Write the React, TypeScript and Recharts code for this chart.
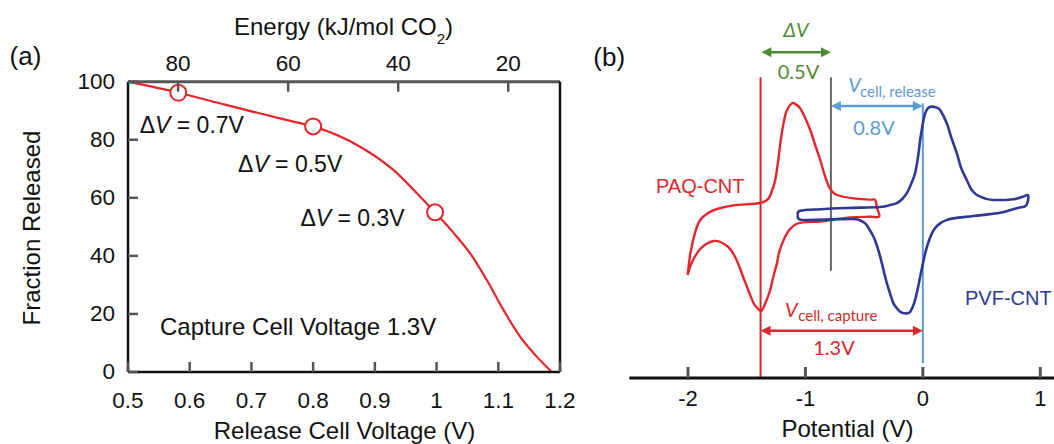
import React from 'react';
import { ComposedChart, Line, XAxis, YAxis, ReferenceLine } from 'recharts';

// panel (a): fraction of CO2 released vs release cell voltage
const releaseVoltage = [0.5, 0.5815, 0.657, 0.711, 0.765, 0.8, 0.876, 0.93, 0.968, 0.9976, 1.0272, 1.0543, 1.0814, 1.1083, 1.1353, 1.1624, 1.1867];
const fractionReleased = [100, 96.2, 92.1, 89.2, 86.4, 84.6, 77.6, 69.6, 61.6, 55.0, 48.0, 40.9, 31.7, 21.4, 12.2, 5.3, 0];
const markerVoltage = [0.5815, 0.8, 0.9976];
const markerFraction = [96.2, 84.6, 55.0];
const voltageTicks = [0.5, 0.6, 0.7, 0.8, 0.9, 1, 1.1, 1.2];
const fractionTicks = [0, 20, 40, 60, 80, 100];
const energyTicks = [20, 40, 60, 80];
const energyDomain = [10.6, 89.1];
const voltageDomain = [0.5, 1.2];
const fractionDomain = [0, 100];

// panel (b): cyclic voltammograms (current in arbitrary units)
const paqPotential = [-2.003, -1.98, -1.938, -1.896, -1.828, -1.753, -1.612, -1.385, -1.314, -1.283, -1.257, -1.231, -1.214, -1.189, -1.163, -1.115, -1.078, -1.044, -1.002, -0.959, -0.917, -0.874, -0.831, -0.789, -0.732, -0.591, -0.45, -0.406, -0.39, -0.372, -0.45, -0.619, -0.763, -0.874, -0.987, -1.078, -1.138, -1.186, -1.223, -1.243, -1.274, -1.3, -1.334, -1.372, -1.41, -1.442, -1.487, -1.527, -1.572, -1.612, -1.657, -1.725, -1.782, -1.844, -1.896, -1.938, -1.98, -2.003];
const paqCurrent = [-32.5, -21.7, -11, -5, -1.5, 0.5, 2.3, 3.5, 5.8, 10, 15, 25, 33.3, 42.5, 49, 53.3, 52.7, 50.8, 46, 40, 32.5, 25, 16.5, 10.5, 7.5, 5.8, 5.2, 5, 1, -3.3, -3.4, -3.7, -4.7, -5.8, -6, -7, -10, -15, -21, -26.7, -33.5, -40, -45.5, -50.3, -49, -46.5, -40, -34, -27, -22, -18.5, -16, -15.5, -17, -19.5, -23, -28, -32.5];
const pvfPotential = [-1.067, -1.044, -0.874, -0.647, -0.363, -0.278, -0.221, -0.176, -0.136, -0.1, -0.066, -0.04, -0.023, -0.002, 0.02, 0.045, 0.077, 0.113, 0.147, 0.204, 0.241, 0.289, 0.326, 0.374, 0.411, 0.46, 0.53, 0.601, 0.771, 0.856, 0.894, 0.896, 0.875, 0.8, 0.658, 0.431, 0.26, 0.19, 0.147, 0.105, 0.077, 0.045, 0.02, -0.002, -0.023, -0.044, -0.066, -0.087, -0.108, -0.136, -0.168, -0.193, -0.223, -0.25, -0.278, -0.306, -0.335, -0.363, -0.393, -0.42, -0.457, -0.491, -0.542, -0.591, -0.761, -0.902, -1.0, -1.044, -1.063, -1.067];
const pvfCurrent = [-2.5, -0.4, 0.4, 1, 1.5, 2.5, 3.4, 5.5, 8.4, 13, 18.4, 27, 35, 42.5, 48.4, 51, 51.7, 51.3, 50, 43.4, 36.5, 28.4, 21, 15, 10.5, 7.5, 5.8, 5, 5.4, 6.7, 7.5, 5, 2, 0.9, -1.4, -3, -4.2, -5.3, -6.7, -9, -11.7, -16.5, -21.7, -27.5, -33.4, -39.5, -45, -48.5, -50.9, -51.7, -51.5, -50.9, -49, -46.7, -42, -36.7, -30, -23.4, -17.5, -13.4, -9.5, -6.7, -5, -4.5, -4.7, -4.9, -5, -4.9, -4, -2.5];
const potentialTicks = [-2, -1, 0, 1];
const potentialDomain = [-2.5, 1.117];
const currentDomain = [-84, 95];

// annotation positions in panel (b), data units
const captureLine = { v: -1.382, top: 66.35 };
const dvLine = { v: -0.783, top: 66.35, bottom: -30.35 };
const releaseLine = { v: 0, top: 53.35, bottom: -76.65 };
const arrowLevels = { dv: 78.85, release: 52, capture: -60.35 };

const INK = '#111111';
const TICK = '#555555';
const RED = '#e4252b';
const RED_DARK = '#d32a2e';
const BLUE = '#2f3896';
const BLUE_LIGHT = '#5b9bd5';
const GREEN = '#4f8a34';
const GRAY = '#666666';
const ARIAL = '"Liberation Sans", Arial, sans-serif';
const LATO = 'Lato, "Open Sans", sans-serif';

const curve = releaseVoltage.map((v, i) => ({ v, f: fractionReleased[i] }));
const markers = markerVoltage.map((v, i) => ({ v, f: markerFraction[i] }));
const energyAnchors = energyTicks.map((e) => ({ e }));
const topFrame = [
  { v: voltageDomain[0], f: fractionDomain[1] },
  { v: voltageDomain[1], f: fractionDomain[1] },
];
const paq = paqPotential.map((v, k) => ({ v, i: paqCurrent[k] }));
const pvf = pvfPotential.map((v, k) => ({ v, i: pvfCurrent[k] }));

// simple catmull-rom curve so the closed CV loops stay smooth
const catmull = (ctx: any) => {
  let pts: number[][] = [];
  return {
    areaStart() {},
    areaEnd() {},
    lineStart() {
      pts = [];
    },
    point(x: number, y: number) {
      pts.push([x, y]);
    },
    lineEnd() {
      if (!pts.length) return;
      ctx.moveTo(pts[0][0], pts[0][1]);
      for (let k = 0; k < pts.length - 1; k++) {
        const p0 = pts[k - 1] || pts[k];
        const p1 = pts[k];
        const p2 = pts[k + 1];
        const p3 = pts[k + 2] || p2;
        ctx.bezierCurveTo(
          p1[0] + (p2[0] - p0[0]) / 6,
          p1[1] + (p2[1] - p0[1]) / 6,
          p2[0] - (p3[0] - p1[0]) / 6,
          p2[1] - (p3[1] - p1[1]) / 6,
          p2[0],
          p2[1]
        );
      }
    },
  };
};

// tickSize = 0 and tickMargin = 0, so (x, y) is the point on the axis line;
// each tick draws its own inward mark plus its label
const LeftTick = (p: any) => {
  const x = Number(p.x);
  const y = Number(p.y);
  return (
    <g>
      <line x1={x} x2={x + 10} y1={y} y2={y} stroke={TICK} strokeWidth={2.5} />
      <text x={x - 13} y={y + 7} textAnchor="end" fontSize={22.5} fontFamily={ARIAL} fill={INK}>
        {p.payload.value}
      </text>
    </g>
  );
};

const RightTick = (p: any) => {
  const x = Number(p.x);
  const y = Number(p.y);
  return <line x1={x - 10} x2={x} y1={y} y2={y} stroke={TICK} strokeWidth={2.5} />;
};

const BottomTickA = (p: any) => {
  const x = Number(p.x);
  const y = Number(p.y);
  return (
    <g>
      <line x1={x} x2={x} y1={y} y2={y - 10} stroke={TICK} strokeWidth={2.5} />
      <text x={x} y={y + 36} textAnchor="middle" fontSize={22.5} fontFamily={ARIAL} fill={INK}>
        {p.payload.value}
      </text>
    </g>
  );
};

const TopTick = (p: any) => {
  const x = Number(p.x);
  const y = Number(p.y);
  return (
    <g>
      <line x1={x} x2={x} y1={y} y2={y + 10} stroke={TICK} strokeWidth={2.5} />
      <text x={x} y={y - 10.5} textAnchor="middle" fontSize={22.5} fontFamily={ARIAL} fill={INK}>
        {p.payload.value}
      </text>
    </g>
  );
};

const BottomTickB = (p: any) => {
  const x = Number(p.x);
  const y = Number(p.y);
  return (
    <g>
      <line x1={x} x2={x} y1={y} y2={y - 11} stroke={TICK} strokeWidth={3} />
      <text x={x} y={y + 27.5} textAnchor="middle" fontSize={22} fontFamily={ARIAL} fill={INK}>
        {p.payload.value}
      </text>
    </g>
  );
};

const arrow = (color: string) => (p: any) => {
  const x1 = Math.min(Number(p.x1), Number(p.x2));
  const x2 = Math.max(Number(p.x1), Number(p.x2));
  const y = Number(p.y1);
  const h = 10;
  const w = 5;
  return (
    <g>
      <line x1={x1 + h - 1} x2={x2 - h + 1} y1={y} y2={y} stroke={color} strokeWidth={2.5} />
      <polygon points={`${x1},${y} ${x1 + h},${y - w} ${x1 + h},${y + w}`} fill={color} />
      <polygon points={`${x2},${y} ${x2 - h},${y - w} ${x2 - h},${y + w}`} fill={color} />
    </g>
  );
};

const frame = { stroke: INK, strokeWidth: 2.5 };

const PanelA = () => (
  <ComposedChart width={600} height={444} margin={{ top: 41.7, right: 20, bottom: 32, left: 68 }}>
    <XAxis
      dataKey="v"
      type="number"
      domain={voltageDomain}
      ticks={voltageTicks}
      height={40}
      tickSize={0}
      tickMargin={0}
      tickLine={false}
      axisLine={frame}
      tick={BottomTickA}
    />
    <XAxis
      xAxisId="top"
      dataKey="e"
      orientation="top"
      type="number"
      domain={energyDomain}
      reversed
      ticks={energyTicks}
      allowDataOverflow
      height={40}
      tickSize={0}
      tickMargin={0}
      tickLine={false}
      axisLine={false}
      tick={TopTick}
    />
    <YAxis
      type="number"
      domain={fractionDomain}
      ticks={fractionTicks}
      width={60}
      tickSize={0}
      tickMargin={0}
      tickLine={false}
      axisLine={frame}
      tick={LeftTick}
    />
    <YAxis
      yAxisId="r"
      orientation="right"
      type="number"
      domain={fractionDomain}
      ticks={fractionTicks}
      width={20}
      tickSize={0}
      tickMargin={0}
      tickLine={false}
      axisLine={frame}
      tick={RightTick}
    />
    <Line xAxisId="top" data={energyAnchors} dataKey="f" stroke="none" dot={false} activeDot={false} isAnimationActive={false} />
    <Line data={topFrame} dataKey="f" stroke={TICK} strokeWidth={3} dot={false} activeDot={false} isAnimationActive={false} />
    <Line data={curve} dataKey="f" type="monotone" stroke={RED} strokeWidth={2.2} dot={false} activeDot={false} isAnimationActive={false} />
    <Line
      data={markers}
      dataKey="f"
      stroke="none"
      dot={{ r: 8, fill: '#ffffff', stroke: RED, strokeWidth: 2 }}
      activeDot={false}
      isAnimationActive={false}
    />
  </ComposedChart>
);

const PanelB = () => (
  <ComposedChart width={454} height={444} margin={{ top: 20, right: 0, bottom: 26, left: 29.3 }}>
    <XAxis
      dataKey="v"
      type="number"
      domain={potentialDomain}
      ticks={potentialTicks}
      allowDataOverflow
      height={40}
      tickSize={0}
      tickMargin={0}
      tickLine={false}
      axisLine={{ stroke: INK, strokeWidth: 3 }}
      tick={BottomTickB}
    />
    <YAxis type="number" domain={currentDomain} allowDataOverflow hide />
    <ReferenceLine
      segment={[{ x: captureLine.v, y: captureLine.top }, { x: captureLine.v, y: currentDomain[0] }]}
      stroke={RED_DARK}
      strokeWidth={2}
      ifOverflow="visible"
    />
    <ReferenceLine
      segment={[{ x: dvLine.v, y: dvLine.top }, { x: dvLine.v, y: dvLine.bottom }]}
      stroke={GRAY}
      strokeWidth={2}
      ifOverflow="visible"
    />
    <ReferenceLine
      segment={[{ x: releaseLine.v, y: releaseLine.top }, { x: releaseLine.v, y: releaseLine.bottom }]}
      stroke={BLUE_LIGHT}
      strokeWidth={2}
      ifOverflow="visible"
    />
    <Line data={paq} dataKey="i" type={catmull as any} stroke={RED} strokeWidth={2.4} dot={false} activeDot={false} isAnimationActive={false} />
    <Line data={pvf} dataKey="i" type={catmull as any} stroke={BLUE} strokeWidth={2.6} dot={false} activeDot={false} isAnimationActive={false} />
    <ReferenceLine
      segment={[{ x: -1.375, y: arrowLevels.dv }, { x: dvLine.v, y: arrowLevels.dv }]}
      shape={arrow(GREEN)}
      ifOverflow="visible"
    />
    <ReferenceLine
      segment={[{ x: dvLine.v, y: arrowLevels.release }, { x: releaseLine.v, y: arrowLevels.release }]}
      shape={arrow(BLUE_LIGHT)}
      ifOverflow="visible"
    />
    <ReferenceLine
      segment={[{ x: captureLine.v, y: arrowLevels.capture }, { x: releaseLine.v, y: arrowLevels.capture }]}
      shape={arrow(RED_DARK)}
      ifOverflow="visible"
    />
  </ComposedChart>
);

const Labels = () => (
  <svg width={1054} height={444} style={{ position: 'absolute', left: 0, top: 0 }}>
    <g fontFamily={ARIAL} fill={INK}>
      <text x={9.6} y={65} fontSize={26}>(a)</text>
      <text x={234} y={35} fontSize={24}>
        Energy (kJ/mol CO<tspan fontSize={15} dy={9}>2</tspan>
        <tspan dy={-9}>)</tspan>
      </text>
      <text x={344.5} y={439} fontSize={24} textAnchor="middle">Release Cell Voltage (V)</text>
      <text x={40} y={228} fontSize={24} textAnchor="middle" transform="rotate(-90 40 228)">Fraction Released</text>
      <text x={139.7} y={133.3} fontSize={23}>Δ<tspan fontStyle="italic">V</tspan> = 0.7V</text>
      <text x={238} y={171.7} fontSize={23}>Δ<tspan fontStyle="italic">V</tspan> = 0.5V</text>
      <text x={300.4} y={226} fontSize={23}>Δ<tspan fontStyle="italic">V</tspan> = 0.3V</text>
      <text x={160} y={334.5} fontSize={24}>Capture Cell Voltage 1.3V</text>
      <text x={593.3} y={65.7} fontSize={26}>(b)</text>
      <text x={847.5} y={437.3} fontSize={24} textAnchor="middle">Potential (V)</text>
      <text x={656} y={192.7} fontSize={20} fill={RED}>PAQ-CNT</text>
      <text x={965} y={305} fontSize={20} fill={BLUE}>PVF-CNT</text>
    </g>
    <g fontFamily={LATO}>
      <text x={796} y={37.3} fontSize={20} fontStyle="italic" fill={GREEN} textAnchor="middle">ΔV</text>
      <text x={798.5} y={79} fontSize={20} fill={GREEN} textAnchor="middle">0.5V</text>
      <text x={848.3} y={91.7} fontSize={20} fontStyle="italic" fill={BLUE_LIGHT}>V</text>
      <text x={860} y={96.7} fontSize={15} fill={BLUE_LIGHT}>cell, release</text>
      <text x={874} y={135} fontSize={20} fill={BLUE_LIGHT} textAnchor="middle">0.8V</text>
      <text x={785} y={316.7} fontSize={20} fontStyle="italic" fill={RED_DARK}>V</text>
      <text x={798.3} y={321} fontSize={15} fill={RED_DARK}>cell, capture</text>
      <text x={834} y={355} fontSize={20} fill={RED_DARK} textAnchor="middle">1.3V</text>
    </g>
  </svg>
);

export default function App() {
  return (
    <div style={{ position: 'absolute', left: 0, top: 0, width: 1054, height: 444, background: '#ffffff' }}>
      <Labels />
      <div style={{ position: 'absolute', left: 0, top: 0, width: 600, height: 444 }}>
        <PanelA />
      </div>
      <div style={{ position: 'absolute', left: 600, top: 0, width: 454, height: 444 }}>
        <PanelB />
      </div>
    </div>
  );
}
